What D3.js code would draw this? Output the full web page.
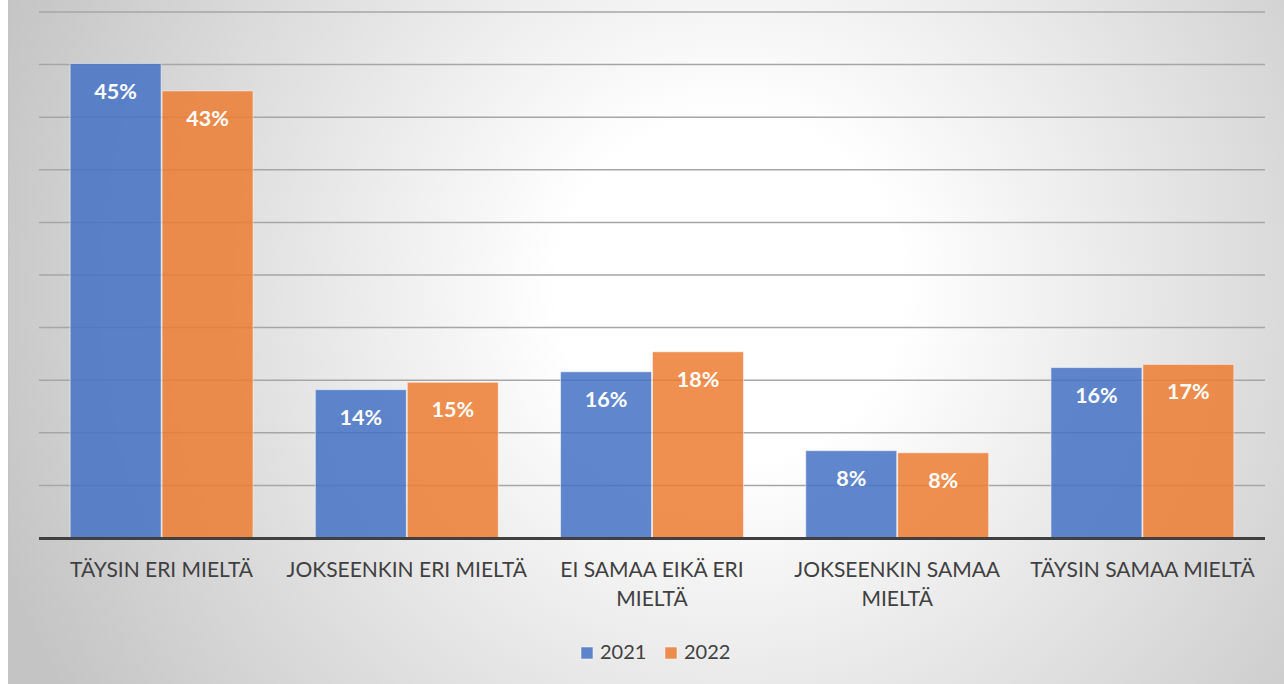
<!DOCTYPE html>
<html>
<head>
<meta charset="utf-8">
<script src="https://cdn.jsdelivr.net/npm/d3@7"></script>
<style>
  html, body { margin: 0; padding: 0; background: #ffffff; }
  svg { display: block; }
</style>
</head>
<body>
<svg id="chart" width="1284" height="684"></svg>
<script>
// ---- data ----
const categories = ["TÄYSIN ERI MIELTÄ", "JOKSEENKIN ERI MIELTÄ", "EI SAMAA EIKÄ ERI MIELTÄ", "JOKSEENKIN SAMAA MIELTÄ", "TÄYSIN SAMAA MIELTÄ"];
const seriesNames = ["2021", "2022"];
const values2021 = [45.1, 14.1, 15.8, 8.3, 16.2];
const values2022 = [42.5, 14.8, 17.7, 8.1, 16.5];
const yTicks = [0, 5, 10, 15, 20, 25, 30, 35, 40, 45, 50];
const colors = ["#4472C4", "#ED7D31"];

const seriesValues = [values2021, values2022];

const W = 1284, H = 684;
const plot = { left: 39, right: 1265, top: 12, bottom: 538 };

const svg = d3.select("#chart");
const defs = svg.append("defs");
const grad = defs.append("radialGradient")
  .attr("id", "bg")
  .attr("gradientUnits", "userSpaceOnUse")
  .attr("cx", 730).attr("cy", 290).attr("r", 780);
grad.append("stop").attr("offset", 0).attr("stop-color", "#ffffff");
grad.append("stop").attr("offset", 0.22).attr("stop-color", "#ffffff");
grad.append("stop").attr("offset", 1).attr("stop-color", "#c4c4c4");

svg.append("rect").attr("x", 8).attr("y", 0).attr("width", W - 8).attr("height", H).attr("fill", "url(#bg)");
svg.append("line").attr("x1", 8.5).attr("x2", 8.5).attr("y1", 0).attr("y2", H)
  .attr("stroke", "#c4c4c4").attr("stroke-width", 1);

const y = d3.scaleLinear().domain([0, 50]).range([plot.bottom, plot.top]);
const x0 = d3.scaleBand().domain(categories).range([plot.left, plot.right])
  .paddingInner(0.25).paddingOuter(0.125);
const x1 = d3.scaleBand().domain(seriesNames).range([0, x0.bandwidth()]);

// gridlines
svg.append("g").selectAll("line").data(yTicks.filter(t => t > 0)).join("line")
  .attr("x1", plot.left).attr("x2", plot.right)
  .attr("y1", d => y(d)).attr("y2", d => y(d))
  .attr("stroke", "#a6a6a6").attr("stroke-width", 1.5);

// bars
const groups = svg.append("g").selectAll("g").data(categories).join("g")
  .attr("transform", d => `translate(${x0(d)},0)`);

groups.each(function(cat, ci) {
  const g = d3.select(this);
  seriesNames.forEach((s, si) => {
    const v = seriesValues[si][ci];
    g.append("rect")
      .attr("x", x1(s) + 0.5)
      .attr("y", y(v))
      .attr("width", x1.bandwidth() - 1)
      .attr("height", y(0) - y(v))
      .attr("fill", colors[si])
      .attr("fill-opacity", 0.85)
      .attr("stroke", "#ffffff")
      .attr("stroke-opacity", 0.5)
      .attr("stroke-width", 1);
    g.append("text")
      .attr("x", x1(s) + x1.bandwidth() / 2)
      .attr("y", y(v) + 35)
      .attr("text-anchor", "middle")
      .attr("font-family", "Lato, 'Open Sans', sans-serif")
      .attr("font-weight", "bold")
      .attr("font-size", 21.5)
      .attr("fill", "#ffffff")
      .text(Math.round(v) + "%");
  });
});

// baseline
svg.append("line").attr("x1", plot.left).attr("x2", plot.right)
  .attr("y1", y(0) + 0.5).attr("y2", y(0) + 0.5)
  .attr("stroke", "#404040").attr("stroke-width", 3);

// category labels with wrapping
const labelG = svg.append("g").attr("font-family", "Lato, 'Open Sans', sans-serif")
  .attr("font-size", 21).attr("fill", "#404040").attr("text-anchor", "middle");
categories.forEach(cat => {
  const cx = x0(cat) + x0.bandwidth() / 2;
  const t = labelG.append("text").attr("x", cx).attr("y", 577);
  const words = cat.split(" ");
  let line = [];
  let tspan = t.append("tspan").attr("x", cx).attr("dy", 0);
  words.forEach(w => {
    line.push(w);
    tspan.text(line.join(" "));
    if (tspan.node().getComputedTextLength() > 244 && line.length > 1) {
      line.pop();
      tspan.text(line.join(" "));
      line = [w];
      tspan = t.append("tspan").attr("x", cx).attr("dy", 29).text(w);
    }
  });
});

// legend
const legend = svg.append("g").attr("font-family", "Lato, 'Open Sans', sans-serif")
  .attr("font-size", 20).attr("fill", "#404040");
const legendX = [581, 665];
seriesNames.forEach((s, i) => {
  legend.append("rect").attr("x", legendX[i]).attr("y", 647).attr("width", 12).attr("height", 12)
    .attr("fill", colors[i]).attr("fill-opacity", 0.85)
    .attr("stroke", "#ffffff").attr("stroke-opacity", 0.5);
  legend.append("text").attr("x", legendX[i] + 19).attr("y", 659).text(s);
});
</script>
</body>
</html>
